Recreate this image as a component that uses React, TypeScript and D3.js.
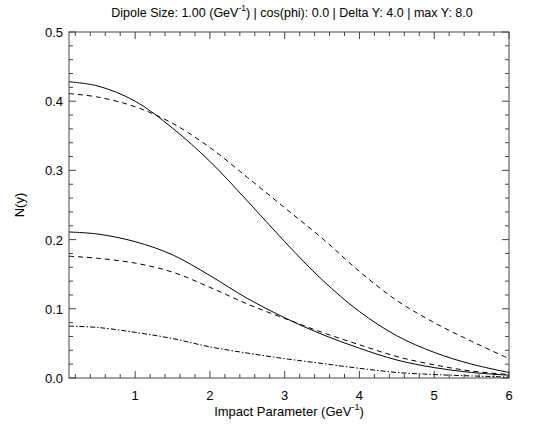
import React, { useRef, useEffect } from 'react';
import * as d3 from 'd3';

const WIDTH = 556;
const HEIGHT = 430;

// impact parameter grid (GeV^-1)
const impactParams = [0.115, 0.5, 1.0, 1.5, 2.0, 2.5, 3.0, 3.5, 4.0, 4.5, 5.0, 5.5, 6.0];

// N(y)
const solidUpper = [0.428, 0.422, 0.400, 0.361, 0.313, 0.256, 0.197, 0.142, 0.096, 0.061, 0.037, 0.020, 0.008];
const dashedUpper = [0.411, 0.406, 0.392, 0.368, 0.333, 0.290, 0.246, 0.202, 0.154, 0.112, 0.080, 0.053, 0.028];
const solidMiddle = [0.211, 0.208, 0.197, 0.178, 0.148, 0.115, 0.087, 0.063, 0.043, 0.026, 0.015, 0.008, 0.004];
const dashedMiddle = [0.176, 0.173, 0.166, 0.153, 0.131, 0.107, 0.086, 0.066, 0.048, 0.031, 0.019, 0.010, 0.005];
const dashDotLower = [0.075, 0.073, 0.066, 0.057, 0.045, 0.036, 0.028, 0.021, 0.014, 0.008, 0.005, 0.003, 0.0015];

const xTicks = [1, 2, 3, 4, 5, 6];
const yTicks = [0.0, 0.1, 0.2, 0.3, 0.4, 0.5];

const series = [
  { values: solidUpper, dash: null },
  { values: dashedUpper, dash: '5,4' },
  { values: solidMiddle, dash: null },
  { values: dashedMiddle, dash: '5,4' },
  { values: dashDotLower, dash: '5,2,1.5,2' },
];

const margin = { top: 32, right: 47, bottom: 52, left: 69 };
const FONT = '"Liberation Sans", Arial, Helvetica, sans-serif';
const AXIS = '#444';

export const App: React.FC = () => {
  const svgRef = useRef<SVGSVGElement>(null);

  useEffect(() => {
    if (!svgRef.current) return;
    const svg = d3.select(svgRef.current);
    svg.selectAll('*').remove();

    const x0 = margin.left;
    const x1 = WIDTH - margin.right;
    const y0 = HEIGHT - margin.bottom;
    const y1 = margin.top;

    const xScale = d3.scaleLinear().domain([0.115, 6]).range([x0, x1]);
    const yScale = d3.scaleLinear().domain([0, 0.5]).range([y0, y1]);

    const g = svg.append('g');

    // frame
    g.append('rect')
      .attr('x', x0).attr('y', y1)
      .attr('width', x1 - x0).attr('height', y0 - y1)
      .attr('fill', 'none').attr('stroke', AXIS).attr('stroke-width', 1);

    // x ticks (bottom + top mirrored)
    const xMinor = d3.range(0.2, 6.001, 0.2).filter((v) => Math.abs(v - Math.round(v)) > 1e-6);
    const tickG = g.append('g').attr('stroke', AXIS).attr('stroke-width', 1);
    xTicks.forEach((v) => {
      const px = xScale(v);
      tickG.append('line').attr('x1', px).attr('x2', px).attr('y1', y0).attr('y2', y0 - 7);
      tickG.append('line').attr('x1', px).attr('x2', px).attr('y1', y1).attr('y2', y1 + 7);
    });
    xMinor.forEach((v) => {
      const px = xScale(v);
      tickG.append('line').attr('x1', px).attr('x2', px).attr('y1', y0).attr('y2', y0 - 4);
      tickG.append('line').attr('x1', px).attr('x2', px).attr('y1', y1).attr('y2', y1 + 4);
    });

    // y ticks (left + right mirrored)
    const yMinor = d3.range(0.02, 0.5, 0.02).filter((v) => Math.abs(v * 10 - Math.round(v * 10)) > 1e-6);
    yTicks.forEach((v) => {
      const py = yScale(v);
      tickG.append('line').attr('x1', x0).attr('x2', x0 + 7).attr('y1', py).attr('y2', py);
      tickG.append('line').attr('x1', x1).attr('x2', x1 - 7).attr('y1', py).attr('y2', py);
    });
    yMinor.forEach((v) => {
      const py = yScale(v);
      tickG.append('line').attr('x1', x0).attr('x2', x0 + 4).attr('y1', py).attr('y2', py);
      tickG.append('line').attr('x1', x1).attr('x2', x1 - 4).attr('y1', py).attr('y2', py);
    });

    // tick labels
    xTicks.forEach((v) => {
      g.append('text')
        .attr('x', xScale(v)).attr('y', y0 + 22)
        .attr('text-anchor', 'middle')
        .attr('font-family', FONT).attr('font-size', 13)
        .text(String(v));
    });
    yTicks.forEach((v) => {
      g.append('text')
        .attr('x', x0 - 6).attr('y', yScale(v) + 5)
        .attr('text-anchor', 'end')
        .attr('font-family', FONT).attr('font-size', 13)
        .text(v.toFixed(1));
    });

    // curves
    const line = d3.line<number>()
      .x((_, i) => xScale(impactParams[i]))
      .y((d) => yScale(d))
      .curve(d3.curveCatmullRom.alpha(0.5));

    series.forEach((s) => {
      g.append('path')
        .datum(s.values)
        .attr('d', line)
        .attr('fill', 'none')
        .attr('stroke', '#000')
        .attr('stroke-width', 1)
        .attr('stroke-dasharray', s.dash);
    });

    // axis titles
    const xTitle = g.append('text')
      .attr('x', (x0 + x1) / 2).attr('y', y0 + 38)
      .attr('text-anchor', 'middle')
      .attr('font-family', FONT).attr('font-size', 13);
    xTitle.append('tspan').text('Impact Parameter (GeV');
    xTitle.append('tspan').attr('font-size', 9).attr('dy', -6).text('-1');
    xTitle.append('tspan').attr('dy', 6).text(')');

    g.append('text')
      .attr('transform', `translate(24,${(y0 + y1) / 2}) rotate(-90)`)
      .attr('text-anchor', 'middle')
      .attr('font-family', FONT).attr('font-size', 13)
      .text('N(y)');

    const title = g.append('text')
      .attr('x', (x0 + x1) / 2 + 3).attr('y', 17)
      .attr('text-anchor', 'middle')
      .attr('font-family', FONT).attr('font-size', 12.5);
    title.append('tspan').text('Dipole Size: 1.00 (GeV');
    title.append('tspan').attr('font-size', 8.5).attr('dy', -6).text('-1');
    title.append('tspan').attr('dy', 6).text(') | cos(phi): 0.0 | Delta Y: 4.0 | max Y: 8.0');
  }, []);

  return (
    <div style={{ position: 'absolute', top: 0, left: 0, width: WIDTH, height: HEIGHT, background: '#fff' }}>
      <svg ref={svgRef} width={WIDTH} height={HEIGHT} style={{ display: 'block' }} />
    </div>
  );
};

export default App;
